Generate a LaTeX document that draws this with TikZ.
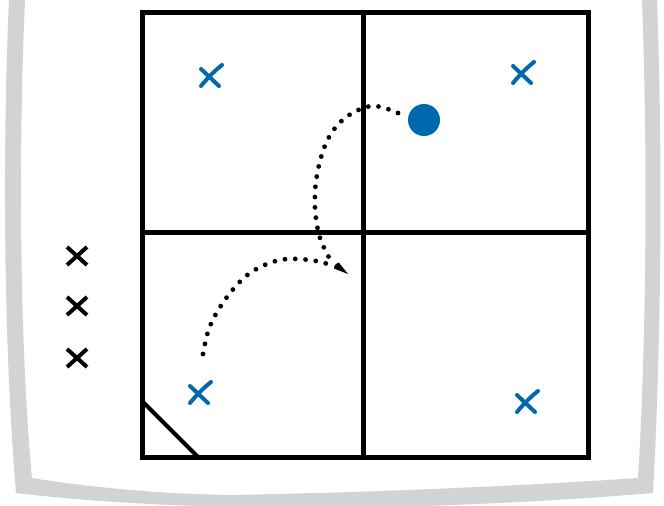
\documentclass[tikz,border=0pt]{standalone}
\usetikzlibrary{arrows.meta}
\definecolor{frameGrey}{RGB}{209,211,212}
\definecolor{markBlue}{RGB}{0,104,172}
\tikzset{
  gridline/.style={line width=5pt, line cap=rect},
  dotpath/.style={line width=4.8pt, line cap=round, dash pattern=on 0pt off 10.3pt},
  blackx/.pic={\draw[line width=4pt] (-10,-9) -- (10,9) (10,-9) -- (-10,9);},
  bluex/.pic={\draw[markBlue, line width=4pt, line cap=round]
      (-10,-7) -- (8,10)
      (11,-11) .. controls (1,-3) and (-5,4) .. (-10,10);},
}
\begin{document}
\begin{tikzpicture}[x=1pt, y=-1pt]
\useasboundingbox (0,0) rectangle (664,506);
% grey frame
\fill[frameGrey, even odd rule]
  (9,-10) -- (9,0) .. controls (2,160) and (4,350) .. (16,493)
  .. controls (200,515) and (450,510) .. (653,493)
  .. controls (661,350) and (663,160) .. (657,0) -- (657,-10) -- cycle
  (25,-10) -- (25,0) .. controls (18,160) and (20,350) .. (32,478)
  .. controls (100,489) and (170,494) .. (230,495)
  .. controls (400,492) and (550,484) .. (638,478)
  .. controls (646,350) and (648,160) .. (642,0) -- (642,-10) -- cycle;
% grid
\coordinate (tl) at (142,12);
\coordinate (br) at (588,457);
\coordinate (mtop) at (363,12);
\coordinate (mbot) at (363,457);
\coordinate (mleft) at (142,232);
\coordinate (mright) at (588,232);
\draw[gridline] (tl) rectangle (br);
\draw[gridline] (mtop) -- (mbot);
\draw[gridline] (mleft) -- (mright);
% corner diagonal
\coordinate (dg1) at (142,401);
\coordinate (dg2) at (198,457);
\draw[line width=4.2pt] (dg1) -- (dg2);
% blue ball
\node[circle, fill=markBlue, minimum size=32pt, inner sep=0pt] (ball) at (424,120) {};
% blue marks
\pic at (211,76) {bluex};
\pic at (523,73) {bluex};
\pic at (200,393) {bluex};
\pic at (527,402) {bluex};
% black marks
\pic at (77,256) {blackx};
\pic at (77,306) {blackx};
\pic at (77,358) {blackx};
% dotted paths
\draw[dotpath] plot[smooth, tension=0.6] coordinates {(398,113) (372,106) (345,118) (327,141) (317,175) (315,208) (320,238) (331,261)};
\draw[dotpath] plot[smooth, tension=0.6] coordinates {(203,354) (210,326) (227,297) (250,273) (280,260) (310,260) (331,265)};
% arrow head
\coordinate (ahe) at (348,274);
\fill (ahe) -- (334.2,268.6) .. controls (333.5,266.5) and (335.5,263.5) .. (338.9,262.6) -- cycle;
\end{tikzpicture}
\end{document}
